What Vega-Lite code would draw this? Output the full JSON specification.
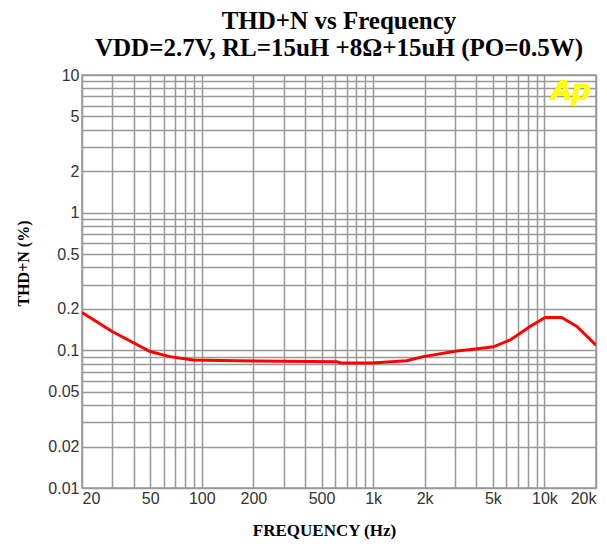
{
  "$schema": "https://vega.github.io/schema/vega-lite/v6.json",
  "width": 514,
  "height": 413,
  "autosize": {"type": "none"},
  "padding": {"left": 82, "top": 75, "right": 11, "bottom": 59},
  "background": "white",
  "title": {
    "text": "THD+N vs Frequency",
    "subtitle": "VDD=2.7V, RL=15uH +8Ω+15uH (PO=0.5W)",
    "font": "Liberation Serif",
    "fontSize": 25,
    "fontWeight": "bold",
    "color": "#000000",
    "subtitleFont": "Liberation Serif",
    "subtitleFontSize": 25,
    "subtitleFontWeight": "bold",
    "subtitleColor": "#000000",
    "subtitlePadding": 2,
    "offset": 6,
    "anchor": "middle"
  },
  "config": {
    "view": {"stroke": "#999999", "strokeWidth": 1.5},
    "axis": {
      "gridColor": "#999999",
      "gridWidth": 1.5,
      "gridOpacity": 1,
      "ticks": false,
      "domain": false,
      "labelFont": "Liberation Sans",
      "labelFontSize": 16,
      "labelColor": "#333333",
      "labelOverlap": false,
      "titleFont": "Liberation Serif",
      "titleFontWeight": "bold",
      "titleColor": "#000000"
    }
  },
  "data": {
    "values": [
      {"freq": 20, "thdn": 0.188},
      {"freq": 30, "thdn": 0.137},
      {"freq": 50, "thdn": 0.098},
      {"freq": 65, "thdn": 0.090},
      {"freq": 89, "thdn": 0.085},
      {"freq": 160, "thdn": 0.084},
      {"freq": 614, "thdn": 0.0825},
      {"freq": 650, "thdn": 0.081},
      {"freq": 980, "thdn": 0.081},
      {"freq": 1570, "thdn": 0.084},
      {"freq": 1960, "thdn": 0.090},
      {"freq": 3080, "thdn": 0.099},
      {"freq": 3850, "thdn": 0.102},
      {"freq": 5040, "thdn": 0.106},
      {"freq": 6310, "thdn": 0.119},
      {"freq": 8240, "thdn": 0.149},
      {"freq": 10090, "thdn": 0.173},
      {"freq": 12600, "thdn": 0.173},
      {"freq": 15460, "thdn": 0.149},
      {"freq": 20000, "thdn": 0.109}
    ]
  },
  "layer": [
    {
      "mark": {"type": "line", "color": "#ff0000", "strokeWidth": 3, "clip": true},
      "encoding": {
        "x": {
          "field": "freq",
          "type": "quantitative",
          "scale": {"type": "log", "domain": [20, 20000], "nice": false},
          "axis": {
            "title": "FREQUENCY (Hz)",
            "titleFontSize": 17,
            "titlePadding": 16,
            "titleX": 242,
            "labelPadding": 2,
            "labelFlush": true,
            "values": [20,30,40,50,60,70,80,90,100,200,300,400,500,600,700,800,900,1000,2000,3000,4000,5000,6000,7000,8000,9000,10000,20000],
            "labelExpr": "indexof([20,50,100,200,500],datum.value)>=0 ? ''+datum.value : (indexof([1000,2000,5000,10000,20000],datum.value)>=0 ? (datum.value/1000)+'k' : '')"
          }
        },
        "y": {
          "field": "thdn",
          "type": "quantitative",
          "scale": {"type": "log", "domain": [0.01, 10], "nice": false},
          "axis": {
            "title": "THD+N (%)",
            "titleFontSize": 16,
            "titlePadding": 16,
            "titleY": 188,
            "labelPadding": 3,
            "values": [0.01,0.02,0.03,0.04,0.05,0.06,0.07,0.08,0.09,0.1,0.2,0.3,0.4,0.5,0.6,0.7,0.8,0.9,1,2,3,4,5,6,7,8,9,10],
            "labelExpr": "indexof([0.01,0.02,0.05,0.1,0.2,0.5,1,2,5,10],datum.value)>=0 ? format(datum.value,'~g') : ''"
          }
        }
      }
    },
    {
      "mark": {"type": "text", "text": "Ap", "font": "Liberation Sans", "fontSize": 30, "fontWeight": "bold", "fontStyle": "italic", "color": "#ffff00", "align": "center", "baseline": "middle"},
      "encoding": {
        "x": {"datum": 14100},
        "y": {"datum": 7.6}
      }
    }
  ]
}
